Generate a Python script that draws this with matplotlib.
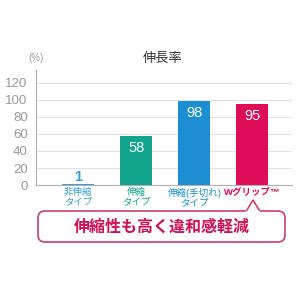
import matplotlib
matplotlib.use("Agg")
import matplotlib.pyplot as plt
from matplotlib.patches import FancyBboxPatch, Polygon

plt.rcParams['font.family'] = ['Liberation Sans', 'Noto Sans CJK JP', 'DejaVu Sans']

categories = ["非伸縮\nタイプ", "伸縮\nタイプ", "伸縮(手切れ)\nタイプ", "Wグリップ™"]
values = [1, 58, 98, 95]
colors = ["#3d9fca", "#12a58c", "#1b8fd2", "#df0d57"]
yticks = [0, 20, 40, 60, 80, 100, 120]
title = "伸長率"
unit = "(%)"
message = "伸縮性も高く違和感軽減"

fig = plt.figure(figsize=(3, 3), dpi=100)
fig.patch.set_facecolor("white")

ax = fig.add_axes([0.12, 0.383, 0.853, 0.384])
x = list(range(len(values)))
ax.bar(x, values, width=0.55, color=colors, zorder=3)
ax.set_xlim(-0.73, 3.68)
ax.set_ylim(0, 135)
ax.set_yticks(yticks)
ax.set_yticklabels([str(t) for t in yticks], fontsize=9.5, color="#9a9a9a")
ax.tick_params(axis="y", length=0, pad=6)
ax.set_xticks([])
ax.yaxis.grid(True, color="#e2e2e2", lw=0.8, zorder=0)
for s in ["top", "right"]:
    ax.spines[s].set_visible(False)
ax.spines["left"].set_color("#b0b0b0")
ax.spines["bottom"].set_color("#b0b0b0")
ax.spines["left"].set_linewidth(0.8)
ax.spines["bottom"].set_linewidth(0.8)

for xi, v, c in zip(x, values, colors):
    if v < 20:
        ax.text(xi, v + 8.5, str(v), ha="center", va="center", color=c,
                fontsize=10.5, fontweight="bold", zorder=4)
    else:
        ax.text(xi, v - 14, str(v), ha="center", va="center", color="white",
                fontsize=10.5, zorder=4)

# category labels
for xi, lab, c in zip(x, categories, colors):
    bold = "bold" if "W" in lab else "normal"
    ax.text(xi, -3, lab, ha="center", va="top", color=c, fontsize=6.8,
            fontweight=bold, linespacing=1.0, transform=ax.transData, clip_on=False)

# overlay for title, unit and callout
ov = fig.add_axes([0, 0, 1, 1])
ov.set_xlim(0, 300)
ov.set_ylim(300, 0)
ov.axis("off")
ov.patch.set_alpha(0)

ov.text(163, 59, title, ha="center", va="center", fontsize=9.5, color="#333333")
ov.text(36, 58, unit, ha="center", va="center", fontsize=7, color="#9a9a9a")

edge = "#c9416a"
box = FancyBboxPatch((38, 211), 247, 31, boxstyle="round,pad=0,rounding_size=7",
                     fc="white", ec=edge, lw=1.2, zorder=5)
ov.add_patch(box)
tri = Polygon([[246, 211.6], [253, 200], [260, 211.6]], closed=False,
              fc="white", ec=edge, lw=1.2, zorder=6)
ov.add_patch(tri)
ov.plot([246.6, 259.4], [211.6, 211.6], color="white", lw=1.6, zorder=7)
ov.text(162, 227, message, ha="center", va="center", fontsize=11.5,
        fontweight="bold", color="#d01050", zorder=8)

fig.savefig("out.png", dpi=100)
